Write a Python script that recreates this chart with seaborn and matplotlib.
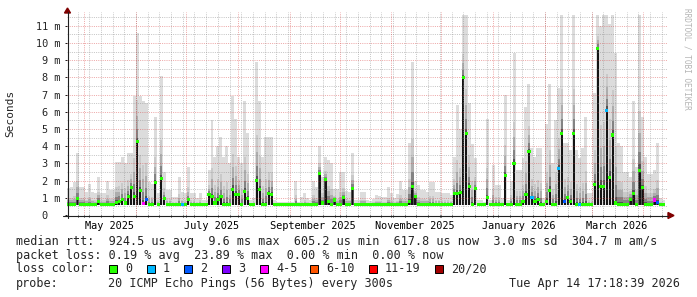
import numpy as np
import pandas as pd
import matplotlib
matplotlib.use("Agg")
import matplotlib.pyplot as plt
import matplotlib.dates as mdates
from matplotlib.patches import Polygon, Rectangle
import seaborn as sns

# ---------------- data ----------------
sample_start = "2025-04-21 12:00"
sample_step_hours = 43

smoke_max_ms = [
    1.55, 1.6, 1.9, 3.6, 1.6, 1.6, 1.35, 1.8, 1.35, 1.3,
    2.2, 1.25, 1.25, 2.0, 1.45, 1.45, 3.1, 3.1, 3.4, 3.0,
    3.6, 3.6, 6.9, 10.6, 6.9, 6.6, 6.5, 1.9, 1.8, 5.7,
    1.25, 8.1, 2.5, 1.45, 1.45, 1.05, 1.05, 2.2, 1.35, 1.3,
    2.8, 1.3, 1.3, 1.0, 1.3, 0.9, 0.9, 2.6, 5.5, 3.4,
    4.0, 4.55, 3.4, 4.0, 3.0, 6.9, 5.6, 3.4, 3.0, 6.6,
    4.75, 0.9, 1.0, 8.9, 6.6, 3.4, 4.55, 4.55, 4.55, 0.9,
    0.75, 0.75, 0.75, 0.75, 0.75, 0.75, 2.0, 0.75, 1.05, 1.25,
    1.0, 0.9, 2.0, 1.6, 4.0, 2.2, 3.4, 3.2, 3.0, 1.5,
    1.5, 2.5, 2.5, 1.4, 1.35, 3.6, 0.9, 0.9, 1.35, 1.35,
    0.9, 0.8, 0.95, 1.15, 1.1, 1.05, 1.05, 1.65, 1.3, 1.0,
    1.2, 2.0, 1.45, 1.45, 4.2, 8.9, 2.0, 1.75, 1.45, 1.45,
    1.35, 1.9, 1.9, 1.35, 1.35, 1.25, 1.3, 1.3, 1.15, 3.4,
    6.4, 5.0, 11.6, 11.6, 6.5, 4.15, 3.3, 0.9, 0.9, 0.75,
    5.6, 0.9, 2.9, 1.75, 1.75, 1.0, 7.0, 0.9, 2.0, 9.4,
    2.6, 2.6, 3.3, 6.3, 7.6, 3.9, 3.4, 3.9, 3.9, 1.0,
    5.3, 7.6, 3.0, 5.5, 7.4, 11.6, 4.2, 4.2, 3.8, 11.6,
    3.8, 3.3, 3.9, 5.7, 1.3, 1.3, 7.1, 11.6, 11.0, 11.6,
    11.6, 11.1, 11.6, 9.4, 4.2, 4.0, 2.5, 2.5, 2.2, 6.6,
    2.8, 11.6, 5.7, 3.4, 2.4, 2.4, 2.6, 4.2, 1.0, 0.9,
]

median_ms = [
    .62, .62, .62, .97, .62, .62, .62, .62, .62, .62,
    .8, .62, .62, .62, .62, .62, .75, .8, .9, .7,
    1.1, 1.6, 1.1, 4.25, 1.4, .65, .9, .62, .62, 1.9,
    .62, 2.1, .97, .62, .62, .62, .62, .62, .62, .62,
    .9, .62, .62, .62, .62, .62, .62, 1.2, 1.05, .7,
    .9, 1.05, .62, .62, .62, 1.5, 1.2, 1.2, .62, 1.35,
    .95, .62, .62, 2.0, 1.5, .62, .62, 1.25, 1.2, .62,
    .62, .62, .62, .62, .62, .62, .62, .62, .62, .62,
    .62, .62, .62, .62, 2.4, .7, 2.07, .8, .62, .87,
    .62, .62, 1.0, .62, .62, 1.55, .62, .62, .62, .62,
    .62, .62, .62, .62, .62, .62, .62, .62, .62, .62,
    .62, .62, .62, .62, .8, 1.65, 1.07, .62, .62, .62,
    .62, .62, .62, .62, .62, .62, .62, .62, .62, 1.25,
    1.25, 1.3, 8.0, 4.75, 1.65, .62, 1.55, .62, .62, .62,
    1.0, .62, .62, .62, .62, .62, 2.3, .62, .62, 3.0,
    .62, .62, .8, 1.2, 3.7, 1.0, .8, .9, .62, .62,
    .8, 1.45, .62, .62, 2.7, 4.75, .8, 1.0, .8, 4.75,
    .62, .62, .62, .62, .62, .62, 1.75, 9.7, 1.65, 1.65,
    6.1, 2.2, 4.65, .7, .62, .62, .62, .62, .9, 1.25,
    .62, 2.6, 1.6, .62, .62, .62, .87, .75, .62, .62,
]

loss_class = [0] * 200
for idx, cls in [(25, 4), (26, 2), (38, 1), (155, 1), (164, 1), (166, 2),
                 (171, 1), (180, 1), (196, 4), (197, 2)]:
    loss_class[idx] = cls

loss_labels = ["0", "1", "2", "3", "4-5", "6-10", "11-19", "20/20"]
loss_colors = ["#26ff00", "#00b8ff", "#0059ff", "#7e00ff", "#ff00ff",
               "#ff5500", "#ff0000", "#a10000"]

month_label_dates = ["2025-05-16", "2025-07-16", "2025-09-15",
                     "2025-11-15", "2026-01-16", "2026-03-16"]
month_labels = ["May 2025", "July 2025", "September 2025",
                "November 2025", "January 2026", "March 2026"]
y_tick_values = list(range(12))
y_tick_labels = ["0  "] + [f"{k} m" for k in range(1, 12)]

legend_rtt = "median rtt:  924.5 us avg  9.6 ms max  605.2 us min  617.8 us now  3.0 ms sd  304.7 m am/s"
legend_loss = "packet loss: 0.19 % avg  23.89 % max  0.00 % min  0.00 % now"
legend_probe_head = "probe:"
legend_probe = "20 ICMP Echo Pings (56 Bytes) every 300s"
legend_date = "Tue Apr 14 17:18:39 2026"

# ---------------- style ----------------
sns.set_theme(style="white")
plt.rcParams["font.family"] = ["DejaVu Sans Mono", "DejaVu Sans"]

W, H = 697, 297
fig = plt.figure(figsize=(W / 100, H / 100), dpi=100)
fig.patch.set_facecolor("white")


def fx(px):
    return px / W


def fy(py):
    return 1 - py / H


ax = fig.add_axes([fx(67), fy(215), (668 - 67) / W, (215 - 12) / H])
ax.set_facecolor("white")
for s in ax.spines.values():
    s.set_visible(False)

dates = pd.date_range(sample_start, periods=len(smoke_max_ms), freq=f"{sample_step_hours}h")
xn = mdates.date2num(dates.to_pydatetime())
wd = sample_step_hours / 24.0
hi = np.array(smoke_max_ms)
med = np.array(median_ms)
base = 0.58

x_lo = mdates.date2num(pd.Timestamp("2025-04-20 15:00"))
x_hi = mdates.date2num(pd.Timestamp("2026-04-15 17:00"))
ax.set_xlim(x_lo, x_hi)
ax.set_ylim(0, 11.8)

# smoke
ax.bar(xn, hi - base, bottom=base, width=wd, color="#dcdcdc", linewidth=0, zorder=1)
for f, c in [(0.38, "#c9c9c9"), (0.24, "#adadad"), (0.12, "#838383"), (0.04, "#525252")]:
    top = med + (hi - med) * f
    ax.bar(xn, top - base, bottom=base, width=wd * 0.8, color=c, linewidth=0, zorder=1.1)
ax.bar(xn, med - base, bottom=base, width=wd * 0.62, color="#141414", linewidth=0, zorder=1.2)

# grid (on top of smoke)
grid_grey = (0.55, 0.55, 0.55, 0.5)
grid_red = (0.85, 0.25, 0.25, 0.45)
for k in range(1, 24):
    v = k * 0.5
    ax.axhline(v, color=grid_red if k % 2 == 0 else grid_grey, lw=0.72,
               ls=(0, (1, 1.2)), zorder=3)
weeks = pd.date_range("2025-04-27", "2026-04-15", freq="7D")
months = pd.date_range("2025-05-01", "2026-04-01", freq="MS")
for d in weeks:
    ax.axvline(mdates.date2num(d), color=grid_grey, lw=0.72, ls=(0, (1, 1.2)), zorder=3)
for d in months:
    ax.axvline(mdates.date2num(d), color=grid_red, lw=0.72, ls=(0, (1, 1.2)), zorder=3.1)

# median, coloured by loss
dfm = pd.DataFrame({"x": xn, "median": med,
                    "loss": [loss_labels[c] for c in loss_class]})
sns.scatterplot(data=dfm, x="x", y="median", hue="loss", hue_order=loss_labels,
                palette=dict(zip(loss_labels, loss_colors)), marker="s", s=5,
                linewidth=0, legend=False, ax=ax, zorder=5)
ax.set_xlabel("")
ax.set_ylabel("")

# ticks
ax.set_xticks(mdates.date2num(pd.to_datetime(month_label_dates)))
ax.set_xticklabels(month_labels, fontsize=7.4)
tick_pos = sorted(set(mdates.date2num(weeks)) | set(mdates.date2num(months)))
ax.set_xticks(tick_pos, minor=True)
ax.tick_params(axis="x", which="major", length=0, pad=4, colors="black")
ax.tick_params(axis="x", which="minor", length=1.5, width=0.72, color="#202020",
               direction="out", bottom=True)
ax.set_yticks(y_tick_values)
ax.set_yticklabels(y_tick_labels, fontsize=7.4)
ax.tick_params(axis="y", which="major", length=1.5, width=0.72, color="#202020",
               pad=3, left=True)

# axes lines and arrows
fig.add_artist(plt.Line2D([fx(67.5), fx(67.5)], [fy(218), fy(12)], color="#202020", lw=0.8))
fig.add_artist(plt.Line2D([fx(63), fx(668)], [fy(215.5), fy(215.5)], color="#202020", lw=0.8))
fig.add_artist(Polygon([[fx(67.5), fy(8)], [fx(64.5), fy(13)], [fx(70.5), fy(13)]],
                       closed=True, color="#7f0000", transform=fig.transFigure))
fig.add_artist(Polygon([[fx(674), fy(215.5)], [fx(668), fy(212.5)], [fx(668), fy(218.5)]],
                       closed=True, color="#7f0000", transform=fig.transFigure))

# labels
fig.text(fx(10), fy(113), "Seconds", rotation=90, ha="center", va="center", fontsize=8)
fig.text(fx(687), fy(59), "RRDTOOL / TOBI OETIKER", rotation=270, ha="center",
         va="center", fontsize=5.6, color="#b4b4b4")

# legend lines
fs = 8.5
fig.text(fx(16), fy(241), legend_rtt, ha="left", va="center", fontsize=fs)
fig.text(fx(16), fy(255), legend_loss, ha="left", va="center", fontsize=fs)
fig.text(fx(16), fy(269), "loss color:", ha="left", va="center", fontsize=fs)
box_x = [109, 147, 184, 222, 260, 310, 369, 435]
for bx, lab, col in zip(box_x, loss_labels, loss_colors):
    fig.add_artist(Rectangle((fx(bx), fy(273)), 8 / W, 8 / H, facecolor=col,
                             edgecolor="black", lw=0.7, transform=fig.transFigure))
    fig.text(fx(bx + 16), fy(269), lab, ha="left", va="center", fontsize=fs)
fig.text(fx(16), fy(283), legend_probe_head, ha="left", va="center", fontsize=fs)
fig.text(fx(108), fy(283), legend_probe, ha="left", va="center", fontsize=fs)
fig.text(fx(680), fy(283), legend_date, ha="right", va="center", fontsize=fs)

fig.savefig("out.png", dpi=100, facecolor="white")
